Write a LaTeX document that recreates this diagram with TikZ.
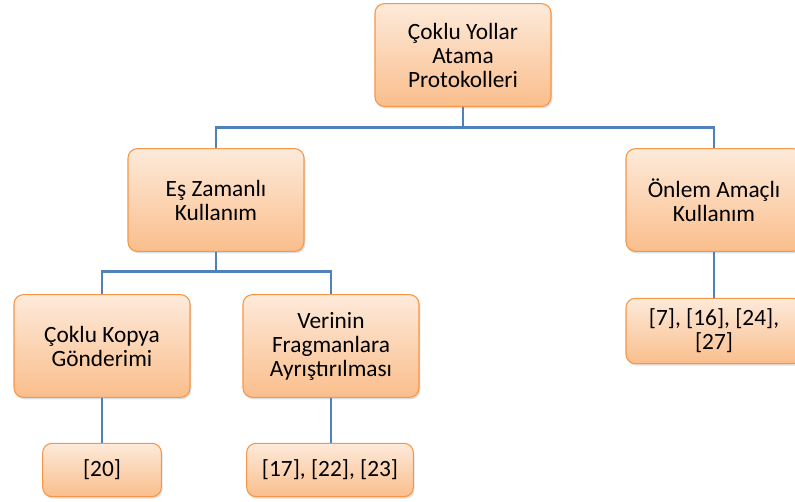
\documentclass[tikz,border=0pt]{standalone}
\usepackage{fontspec}
\setmainfont{Carlito}
\usetikzlibrary{shadows}
\definecolor{boxtop}{RGB}{253,234,218}
\definecolor{boxbot}{RGB}{250,190,140}
\definecolor{boxline}{RGB}{247,150,70}
\definecolor{linkblue}{RGB}{79,129,189}
\tikzset{
  kutu/.style={draw=boxline, line width=0.8pt, rounded corners=7pt,
    top color=boxtop, bottom color=boxbot, align=center,
    font=\fontsize{17.5}{18}\selectfont, inner sep=2pt,
    drop shadow={shadow xshift=1pt, shadow yshift=-1.5pt, opacity=0.25}},
  buyuk/.style={kutu, minimum width=132pt, minimum height=77pt},
  kucuk/.style={kutu, minimum height=40pt},
  bag/.style={linkblue, line width=2.2pt}
}
\begin{document}
\begin{tikzpicture}[x=0.75pt, y=-0.75pt]
\useasboundingbox (0,0) rectangle (795,502);
% kutular
\node[buyuk] (root) at (463,55) {Çoklu Yollar\\Atama\\Protokolleri};
\node[buyuk] (ez) at (216,200) {Eş Zamanlı\\Kullanım};
\node[buyuk] (onlem) at (714,200) {Önlem Amaçlı\\Kullanım};
\node[buyuk] (kopya) at (102,346) {Çoklu Kopya\\Gönderimi};
\node[buyuk] (frag) at (331,346) {Verinin\\Fragmanlara\\Ayrıştırılması};
\node[kucuk, minimum width=89pt] (r20) at (102,470) {[20]};
\node[kucuk, minimum width=125pt] (r17) at (330,470) {[17], [22], [23]};
\node[kutu, minimum width=132pt, minimum height=49pt] (r7) at (714,331) {[7], [16], [24],\\{}[27]};
% baglantilar
\draw[bag] (root.south) -- ++(0,21) -| (ez.north);
\draw[bag] (root.south) -- ++(0,21) -| (onlem.north);
\draw[bag] (ez.south) -- ++(0,20) -| (kopya.north);
\draw[bag] (ez.south) -- ++(0,20) -| (frag.north);
\draw[bag] (kopya.south) -- (r20.north);
\draw[bag] (frag.south) -- (frag.south |- r17.north);
\draw[bag] (onlem.south) -- (r7.north);
\end{tikzpicture}
\end{document}
